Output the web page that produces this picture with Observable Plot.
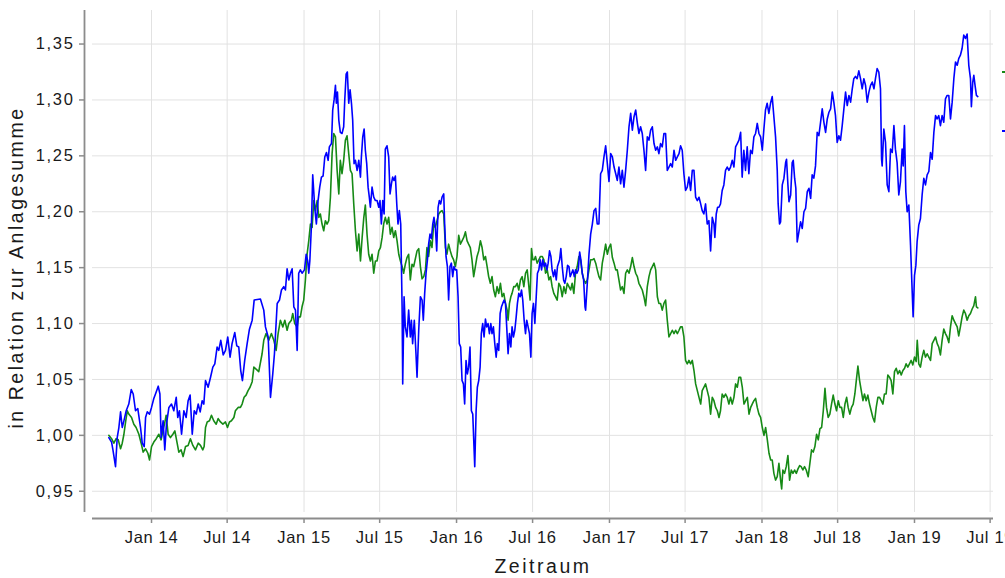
<!DOCTYPE html>
<html><head><meta charset="utf-8">
<script src="https://cdn.jsdelivr.net/npm/d3@7"></script>
<script src="https://cdn.jsdelivr.net/npm/@observablehq/plot@0.6"></script>
<style>
html,body{margin:0;padding:0;background:#fff;overflow:hidden;}
#wrap{position:relative;width:1005px;height:578px;}
#wrap svg g[aria-label="y-axis tick label"] text{letter-spacing:0.1em;}
#wrap svg g[aria-label="x-axis tick label"] text{letter-spacing:0.04em;}
#wrap svg g[aria-label="text"] text{letter-spacing:0.13em;}
.key{position:absolute;left:1002px;width:10px;height:2px;}
</style></head><body><div id="wrap"></div>
<script>
// Values: [decimal year, value relative to invested sum]
const blau = [[2013.720,0.998],[2013.738,0.994],[2013.747,0.987],[2013.764,0.972],[2013.775,0.998],[2013.786,1.007],[2013.797,1.021],[2013.808,1.007],[2013.819,1.013],[2013.834,1.022],[2013.851,1.028],[2013.867,1.041],[2013.880,1.037],[2013.895,1.022],[2013.910,1.024],[2013.928,1.007],[2013.939,0.993],[2013.952,0.990],[2013.961,1.016],[2013.972,1.021],[2013.987,1.019],[2014.000,1.025],[2014.015,1.033],[2014.026,1.037],[2014.044,1.044],[2014.055,1.037],[2014.063,0.998],[2014.076,1.013],[2014.087,0.987],[2014.098,1.010],[2014.114,1.025],[2014.131,1.028],[2014.146,1.022],[2014.162,1.034],[2014.172,1.016],[2014.183,1.022],[2014.197,1.001],[2014.212,1.022],[2014.227,1.016],[2014.240,1.031],[2014.253,1.036],[2014.267,1.001],[2014.280,1.022],[2014.293,1.019],[2014.306,1.028],[2014.319,1.021],[2014.332,1.031],[2014.343,1.028],[2014.354,1.049],[2014.371,1.043],[2014.387,1.052],[2014.402,1.061],[2014.415,1.064],[2014.430,1.079],[2014.441,1.076],[2014.454,1.085],[2014.470,1.072],[2014.485,1.076],[2014.500,1.088],[2014.515,1.070],[2014.528,1.082],[2014.546,1.092],[2014.559,1.080],[2014.572,1.079],[2014.585,1.058],[2014.596,1.049],[2014.611,1.067],[2014.627,1.082],[2014.642,1.095],[2014.660,1.103],[2014.673,1.121],
[2014.714,1.122],[2014.736,1.112],[2014.747,1.097],[2014.765,1.088],[2014.780,1.034],[2014.795,1.055],[2014.806,1.073],[2014.824,1.118],[2014.839,1.121],[2014.852,1.130],[2014.867,1.133],[2014.878,1.130],[2014.889,1.149],[2014.900,1.139],[2014.911,1.145],[2014.922,1.149],[2014.933,1.115],[2014.944,1.112],[2014.955,1.076],[2014.965,1.145],[2014.976,1.148],[2014.987,1.145],[2015.003,1.148],[2015.014,1.162],[2015.024,1.156],[2015.031,1.145],[2015.038,1.156],[2015.048,1.186],[2015.057,1.233],[2015.070,1.204],[2015.081,1.189],[2015.092,1.210],[2015.103,1.222],[2015.114,1.231],[2015.125,1.232],[2015.136,1.249],[2015.147,1.253],[2015.158,1.246],[2015.166,1.258],[2015.180,1.261],[2015.188,1.291],[2015.197,1.300],[2015.206,1.313],[2015.212,1.297],[2015.219,1.307],[2015.228,1.282],[2015.238,1.271],[2015.249,1.270],[2015.260,1.276],[2015.267,1.300],[2015.276,1.323],[2015.284,1.325],[2015.293,1.297],[2015.302,1.309],[2015.311,1.297],[2015.319,1.282],[2015.328,1.243],[2015.337,1.246],[2015.348,1.237],[2015.359,1.246],[2015.370,1.231],[2015.376,1.249],[2015.385,1.267],[2015.394,1.274],[2015.402,1.255],[2015.411,1.243],[2015.420,1.222],[2015.428,1.213],[2015.435,1.204],[2015.446,1.222],[2015.457,1.213],[2015.468,1.210],[2015.479,1.210],[2015.490,1.204],[2015.498,1.210],[2015.507,1.189],[2015.516,1.210],[2015.525,1.198],[2015.533,1.256],[2015.544,1.259],[2015.555,1.249],[2015.564,1.216],[2015.573,1.225],[2015.581,1.231],[2015.590,1.228],[2015.599,1.232],[2015.608,1.207],[2015.616,1.189],[2015.625,1.201],[2015.634,1.189],[2015.643,1.115],[2015.647,1.046],[2015.656,1.124],[2015.664,1.097],[2015.675,1.088],[2015.686,1.112],[2015.697,1.088],[2015.704,1.103],[2015.712,1.082],[2015.723,1.103],[2015.734,1.073],
[2015.741,1.052],[2015.752,1.094],[2015.763,1.124],[2015.774,1.121],[2015.782,1.103],[2015.791,1.127],[2015.800,1.145],[2015.809,1.157],[2015.817,1.171],[2015.826,1.180],[2015.835,1.176],[2015.844,1.189],[2015.852,1.195],[2015.861,1.186],[2015.870,1.165],[2015.879,1.204],[2015.887,1.210],[2015.896,1.207],[2015.905,1.213],[2015.916,1.216],[2015.922,1.189],[2015.931,1.160],[2015.940,1.151],[2015.948,1.121],[2015.957,1.151],[2015.966,1.154],[2015.975,1.142],[2015.983,1.151],[2015.992,1.148],[2016.001,1.148],[2016.010,1.124],[2016.018,1.082],[2016.027,1.079],[2016.036,1.049],[2016.045,1.046],[2016.053,1.028],[2016.062,1.067],[2016.071,1.055],[2016.079,1.061],[2016.088,1.079],[2016.097,1.022],[2016.106,1.019],[2016.114,0.990],[2016.119,0.972],[2016.128,1.022],[2016.136,1.043],[2016.145,1.049],[2016.154,1.061],[2016.162,1.091],[2016.171,1.100],[2016.180,1.088],[2016.189,1.104],[2016.197,1.097],[2016.206,1.100],[2016.215,1.091],[2016.224,1.100],[2016.232,1.091],[2016.241,1.097],[2016.250,1.082],[2016.259,1.070],[2016.267,1.082],[2016.276,1.076],[2016.285,1.109],[2016.294,1.115],[2016.302,1.118],[2016.311,1.121],[2016.320,1.118],[2016.328,1.097],[2016.337,1.073],[2016.346,1.091],[2016.355,1.079],[2016.363,1.097],[2016.372,1.088],[2016.381,1.094],[2016.390,1.106],[2016.398,1.118],[2016.407,1.127],[2016.416,1.124],[2016.425,1.130],[2016.433,1.121],[2016.442,1.103],[2016.451,1.091],[2016.459,1.103],[2016.468,1.097],[2016.477,1.091],[2016.486,1.070],[2016.494,1.109],[2016.503,1.118],[2016.512,1.100],[2016.521,1.124],[2016.529,1.145],[2016.538,1.148],[2016.547,1.157],[2016.556,1.148],[2016.564,1.157],[2016.573,1.151],[2016.582,1.154],[2016.591,1.148],[2016.599,1.154],[2016.608,1.165],[2016.617,1.160],[2016.625,1.148],[2016.634,1.142],[2016.643,1.148],[2016.652,1.139],[2016.660,1.151],[2016.674,1.157],[2016.682,1.167],[2016.691,1.151],[2016.700,1.139],[2016.708,1.136],[2016.717,1.142],[2016.726,1.152],[2016.735,1.151],[2016.743,1.142],[2016.752,1.145],[2016.761,1.148],[2016.770,1.142],[2016.778,1.148],[2016.787,1.145],[2016.796,1.148],[2016.805,1.164],[2016.813,1.157],[2016.822,1.145],[2016.831,1.139],[2016.840,1.115],
[2016.844,1.112],[2016.855,1.136],[2016.866,1.162],[2016.877,1.180],[2016.888,1.189],[2016.899,1.201],[2016.910,1.203],[2016.920,1.189],[2016.931,1.189],[2016.942,1.234],[2016.953,1.237],[2016.964,1.249],[2016.975,1.259],[2016.986,1.243],[2016.997,1.227],[2017.008,1.252],[2017.019,1.249],[2017.030,1.240],[2017.041,1.234],[2017.051,1.228],[2017.062,1.240],[2017.073,1.225],[2017.084,1.237],[2017.095,1.222],[2017.106,1.237],[2017.117,1.255],[2017.128,1.276],[2017.139,1.288],[2017.150,1.273],[2017.161,1.285],[2017.172,1.291],[2017.183,1.279],[2017.193,1.270],[2017.204,1.276],[2017.215,1.270],[2017.226,1.255],[2017.237,1.237],[2017.248,1.267],[2017.259,1.264],[2017.270,1.273],[2017.281,1.276],[2017.292,1.261],[2017.303,1.255],[2017.314,1.258],[2017.324,1.252],[2017.335,1.261],[2017.346,1.258],[2017.357,1.270],[2017.368,1.270],[2017.379,1.237],[2017.390,1.240],[2017.401,1.243],[2017.412,1.240],[2017.423,1.255],[2017.434,1.246],[2017.445,1.249],[2017.456,1.252],[2017.466,1.259],[2017.477,1.255],[2017.488,1.234],[2017.499,1.219],[2017.510,1.222],[2017.521,1.231],[2017.532,1.219],[2017.543,1.237],[2017.554,1.237],[2017.565,1.213],[2017.576,1.210],[2017.587,1.213],[2017.598,1.207],[2017.608,1.201],[2017.619,1.198],[2017.630,1.207],[2017.641,1.189],[2017.652,1.192],[2017.663,1.165],[2017.674,1.195],[2017.685,1.189],[2017.691,1.177],[2017.700,1.198],[2017.709,1.204],[2017.718,1.204],[2017.728,1.207],[2017.739,1.219],[2017.750,1.224],[2017.761,1.237],[2017.772,1.240],[2017.783,1.237],[2017.794,1.240],[2017.805,1.246],[2017.816,1.240],[2017.827,1.258],[2017.838,1.261],[2017.849,1.264],[2017.860,1.271],[2017.870,1.231],[2017.881,1.255],[2017.892,1.237],[2017.903,1.258],[2017.914,1.234],[2017.925,1.255],[2017.936,1.252],[2017.947,1.267],[2017.958,1.270],[2017.969,1.279],[2017.980,1.270],[2017.991,1.267],[2018.002,1.255],[2018.012,1.273],[2018.023,1.291],[2018.034,1.297],[2018.045,1.288],[2018.056,1.297],[2018.067,1.303],[2018.078,1.285],[2018.089,1.267],[2018.100,1.237],[2018.106,1.207],[2018.115,1.189],
[2018.122,1.191],[2018.133,1.224],[2018.144,1.230],[2018.155,1.244],[2018.161,1.247],[2018.170,1.224],[2018.177,1.209],[2018.188,1.215],[2018.198,1.244],[2018.205,1.246],[2018.214,1.230],[2018.222,1.221],[2018.231,1.173],[2018.242,1.182],[2018.253,1.191],[2018.264,1.185],[2018.275,1.200],[2018.286,1.203],[2018.297,1.218],[2018.308,1.221],[2018.319,1.212],[2018.329,1.233],[2018.340,1.230],[2018.351,1.241],[2018.362,1.271],[2018.373,1.268],[2018.384,1.280],[2018.395,1.292],[2018.406,1.280],[2018.417,1.271],[2018.428,1.283],[2018.439,1.289],[2018.450,1.292],[2018.461,1.307],[2018.471,1.298],[2018.482,1.286],[2018.493,1.262],[2018.504,1.268],[2018.515,1.264],[2018.526,1.277],[2018.537,1.292],[2018.548,1.307],[2018.559,1.295],[2018.570,1.304],[2018.581,1.298],[2018.592,1.310],[2018.602,1.319],[2018.613,1.321],[2018.624,1.319],[2018.635,1.326],[2018.646,1.319],[2018.657,1.310],[2018.668,1.319],[2018.679,1.313],[2018.690,1.298],[2018.701,1.307],[2018.712,1.313],[2018.723,1.316],[2018.734,1.310],[2018.744,1.319],[2018.755,1.328],[2018.766,1.325],[2018.777,1.310],[2018.784,1.247],[2018.788,1.241],[2018.799,1.274],[2018.810,1.262],[2018.821,1.224],[2018.832,1.218],[2018.843,1.256],[2018.854,1.253],[2018.865,1.277],[2018.875,1.256],[2018.886,1.244],[2018.897,1.215],[2018.908,1.227],[2018.919,1.256],[2018.926,1.241],[2018.934,1.277],[2018.943,1.218],[2018.952,1.200],[2018.963,1.206],[2018.974,1.170],[2018.985,1.128],[2018.991,1.106],[2019.000,1.143],[2019.009,1.152],[2019.017,1.173],[2019.028,1.188],[2019.039,1.194],[2019.050,1.215],[2019.061,1.230],[2019.072,1.224],[2019.083,1.233],[2019.094,1.236],[2019.105,1.253],[2019.116,1.247],[2019.127,1.271],[2019.138,1.286],[2019.148,1.283],[2019.159,1.286],[2019.170,1.277],[2019.181,1.286],[2019.192,1.280],[2019.203,1.301],[2019.214,1.304],[2019.225,1.304],[2019.236,1.283],[2019.247,1.298],[2019.258,1.319],[2019.269,1.334],[2019.280,1.331],[2019.290,1.337],[2019.301,1.340],[2019.312,1.346],[2019.323,1.358],[2019.334,1.355],[2019.345,1.359],[2019.356,1.331],[2019.367,1.319],[2019.373,1.294],[2019.382,1.316],[2019.389,1.322],[2019.397,1.313],[2019.406,1.304],[2019.415,1.303]];

const gruen = [[2013.720,1.000],[2013.738,0.997],[2013.753,0.993],[2013.768,0.997],[2013.782,0.996],[2013.797,0.988],[2013.808,0.993],[2013.819,1.001],[2013.830,1.012],[2013.841,1.022],[2013.851,1.019],[2013.869,1.016],[2013.884,1.010],[2013.899,1.007],[2013.917,1.001],[2013.932,0.993],[2013.945,0.985],[2013.961,0.988],[2013.976,0.984],[2013.987,0.978],[2014.000,0.990],[2014.015,0.994],[2014.031,0.997],[2014.048,1.001],[2014.063,0.996],[2014.074,1.004],[2014.085,1.010],[2014.096,1.018],[2014.109,1.001],[2014.124,0.998],[2014.140,1.001],[2014.153,1.004],[2014.168,0.993],[2014.179,0.985],[2014.194,0.987],[2014.207,0.981],[2014.223,0.990],[2014.240,0.991],[2014.255,0.997],[2014.271,0.991],[2014.288,0.987],[2014.306,0.993],[2014.321,0.991],[2014.336,0.987],[2014.345,0.990],[2014.354,1.007],[2014.365,1.012],[2014.380,1.013],[2014.393,1.018],[2014.408,1.013],[2014.424,1.010],[2014.437,1.015],[2014.452,1.012],[2014.468,1.010],[2014.485,1.012],[2014.498,1.007],[2014.511,1.012],[2014.524,1.013],[2014.540,1.016],[2014.550,1.022],[2014.568,1.025],[2014.583,1.025],[2014.594,1.028],[2014.607,1.034],[2014.620,1.036],[2014.633,1.040],[2014.646,1.043],[2014.660,1.048],[2014.671,1.061],
[2014.703,1.057],[2014.725,1.073],[2014.736,1.085],[2014.751,1.091],[2014.769,1.085],[2014.786,1.091],[2014.802,1.085],[2014.817,1.076],[2014.830,1.091],[2014.845,1.103],[2014.861,1.097],[2014.874,1.103],[2014.889,1.094],[2014.900,1.100],[2014.917,1.103],[2014.926,1.109],[2014.939,1.100],[2014.955,1.097],[2014.965,1.106],[2014.976,1.106],[2014.987,1.115],[2014.998,1.121],[2015.009,1.139],[2015.020,1.162],[2015.031,1.174],[2015.042,1.189],[2015.053,1.186],[2015.064,1.210],[2015.075,1.201],[2015.086,1.210],[2015.097,1.195],[2015.107,1.198],[2015.118,1.189],[2015.129,1.183],[2015.140,1.192],[2015.151,1.189],[2015.162,1.192],[2015.173,1.213],[2015.184,1.252],[2015.195,1.270],[2015.206,1.267],[2015.217,1.237],[2015.228,1.216],[2015.238,1.246],[2015.249,1.234],[2015.260,1.246],[2015.271,1.264],[2015.282,1.268],[2015.293,1.252],[2015.304,1.237],[2015.315,1.234],[2015.326,1.207],[2015.337,1.183],[2015.348,1.165],[2015.359,1.180],[2015.370,1.156],[2015.381,1.177],[2015.392,1.195],[2015.402,1.206],[2015.413,1.180],[2015.424,1.162],[2015.435,1.156],[2015.446,1.162],[2015.457,1.145],[2015.468,1.156],[2015.479,1.156],[2015.490,1.165],[2015.501,1.168],[2015.512,1.177],[2015.522,1.189],[2015.533,1.195],[2015.544,1.189],[2015.555,1.195],[2015.566,1.180],[2015.577,1.186],[2015.588,1.177],[2015.599,1.183],[2015.610,1.174],[2015.621,1.162],[2015.632,1.156],[2015.643,1.151],[2015.653,1.145],[2015.664,1.153],[2015.675,1.159],[2015.686,1.162],[2015.697,1.139],[2015.708,1.153],[2015.719,1.151],
[2015.741,1.165],[2015.752,1.167],[2015.763,1.151],[2015.774,1.140],[2015.785,1.142],[2015.796,1.148],[2015.806,1.168],[2015.817,1.160],[2015.828,1.174],[2015.839,1.168],[2015.850,1.189],[2015.861,1.186],[2015.872,1.192],[2015.883,1.198],[2015.894,1.200],[2015.905,1.201],[2015.916,1.198],[2015.927,1.168],[2015.937,1.162],[2015.948,1.171],[2015.959,1.165],[2015.970,1.160],[2015.981,1.157],[2015.992,1.151],[2016.003,1.160],[2016.014,1.179],[2016.025,1.171],[2016.036,1.174],[2016.047,1.177],[2016.058,1.182],[2016.069,1.174],[2016.079,1.171],[2016.090,1.168],[2016.101,1.157],[2016.112,1.142],[2016.123,1.151],[2016.134,1.160],[2016.145,1.165],[2016.156,1.174],[2016.167,1.168],[2016.178,1.157],[2016.189,1.160],[2016.200,1.151],[2016.210,1.142],[2016.221,1.136],[2016.232,1.142],[2016.243,1.130],[2016.254,1.124],[2016.265,1.133],[2016.276,1.127],[2016.287,1.136],[2016.298,1.124],[2016.309,1.127],[2016.320,1.118],[2016.331,1.112],[2016.337,1.103],[2016.346,1.118],[2016.355,1.124],[2016.363,1.127],[2016.374,1.133],[2016.385,1.133],[2016.396,1.136],[2016.407,1.130],[2016.418,1.139],[2016.429,1.142],[2016.440,1.133],[2016.451,1.145],[2016.462,1.148],[2016.473,1.133],[2016.481,1.121],[2016.490,1.167],[2016.499,1.157],[2016.508,1.157],[2016.516,1.160],[2016.527,1.154],[2016.538,1.157],[2016.549,1.160],[2016.560,1.160],[2016.571,1.157],[2016.582,1.145],[2016.593,1.148],[2016.604,1.139],[2016.615,1.142],[2016.625,1.133],[2016.636,1.127],[2016.647,1.124],[2016.658,1.121],[2016.669,1.136],[2016.680,1.133],[2016.691,1.124],[2016.702,1.133],[2016.713,1.127],[2016.724,1.136],[2016.735,1.133],[2016.746,1.130],[2016.756,1.136],[2016.767,1.127],[2016.778,1.145],[2016.789,1.151],[2016.800,1.160],[2016.811,1.157],[2016.822,1.145],[2016.833,1.139],
[2016.844,1.136],[2016.855,1.139],[2016.866,1.148],[2016.877,1.157],[2016.888,1.157],[2016.899,1.158],[2016.910,1.154],[2016.920,1.148],[2016.931,1.142],[2016.942,1.139],[2016.953,1.154],[2016.964,1.162],[2016.975,1.171],[2016.986,1.162],[2016.997,1.168],[2017.008,1.171],[2017.019,1.159],[2017.030,1.154],[2017.041,1.148],[2017.051,1.148],[2017.062,1.139],[2017.073,1.130],[2017.084,1.133],[2017.095,1.127],[2017.106,1.145],[2017.117,1.148],[2017.128,1.145],[2017.139,1.151],[2017.150,1.159],[2017.161,1.151],[2017.172,1.145],[2017.183,1.142],[2017.193,1.136],[2017.204,1.133],[2017.215,1.130],[2017.226,1.124],[2017.237,1.116],[2017.248,1.133],[2017.259,1.142],[2017.270,1.148],[2017.281,1.151],[2017.292,1.154],[2017.303,1.148],[2017.314,1.124],[2017.324,1.118],[2017.335,1.118],[2017.346,1.112],[2017.357,1.118],[2017.368,1.121],[2017.379,1.103],[2017.390,1.088],[2017.401,1.091],[2017.412,1.094],[2017.423,1.091],[2017.434,1.094],[2017.445,1.091],[2017.456,1.094],[2017.466,1.097],[2017.477,1.097],[2017.488,1.088],[2017.499,1.067],[2017.510,1.064],[2017.521,1.067],[2017.532,1.064],[2017.543,1.067],[2017.554,1.058],[2017.565,1.046],[2017.576,1.040],[2017.587,1.034],[2017.598,1.028],[2017.608,1.040],[2017.619,1.043],[2017.630,1.046],[2017.641,1.040],[2017.652,1.034],[2017.663,1.019],[2017.674,1.034],[2017.685,1.031],[2017.696,1.025],[2017.707,1.022],[2017.718,1.016],[2017.728,1.022],[2017.739,1.037],[2017.750,1.034],[2017.761,1.037],[2017.772,1.034],[2017.783,1.028],[2017.794,1.034],[2017.805,1.028],[2017.816,1.034],[2017.827,1.046],[2017.838,1.043],[2017.849,1.052],
[2017.860,1.052],[2017.871,1.043],[2017.882,1.028],[2017.893,1.031],[2017.904,1.034],[2017.915,1.019],[2017.926,1.025],[2017.936,1.028],[2017.947,1.031],[2017.958,1.033],[2017.969,1.025],[2017.980,1.019],[2017.991,1.016],[2018.002,1.007],[2018.013,1.000],[2018.024,1.007],[2018.035,0.996],[2018.046,0.984],[2018.057,0.978],[2018.067,0.978],[2018.078,0.966],[2018.089,0.960],[2018.100,0.963],[2018.111,0.975],[2018.122,0.960],[2018.129,0.952],[2018.137,0.969],[2018.148,0.966],[2018.159,0.972],[2018.170,0.982],[2018.181,0.960],[2018.192,0.969],[2018.203,0.966],[2018.214,0.969],[2018.225,0.966],[2018.236,0.970],[2018.247,0.973],[2018.257,0.972],[2018.268,0.969],[2018.279,0.972],[2018.290,0.969],[2018.303,0.963],[2018.314,0.975],[2018.325,0.987],[2018.336,0.985],[2018.347,0.990],[2018.358,1.001],[2018.369,0.996],[2018.380,1.006],[2018.391,1.007],[2018.402,1.022],[2018.413,1.042],[2018.423,1.025],[2018.434,1.016],[2018.445,1.019],[2018.456,1.028],[2018.467,1.036],[2018.478,1.028],[2018.489,1.022],[2018.500,1.031],[2018.511,1.025],[2018.522,1.025],[2018.533,1.016],[2018.544,1.028],[2018.555,1.034],[2018.565,1.025],[2018.576,1.019],[2018.587,1.025],[2018.598,1.028],[2018.609,1.037],[2018.620,1.051],[2018.629,1.062],[2018.640,1.049],[2018.651,1.040],[2018.662,1.031],[2018.672,1.037],[2018.683,1.031],[2018.694,1.036],[2018.705,1.028],[2018.716,1.022],[2018.727,1.016],[2018.738,1.012],[2018.749,1.025],[2018.760,1.034],[2018.771,1.034],[2018.782,1.031],[2018.793,1.028],[2018.803,1.037],[2018.814,1.037],[2018.825,1.054],[2018.836,1.052],[2018.847,1.049],[2018.858,1.037],[2018.869,1.057],[2018.880,1.060],[2018.891,1.055],[2018.902,1.058],[2018.913,1.054],[2018.924,1.058],[2018.935,1.060],[2018.945,1.064],[2018.956,1.061],[2018.967,1.064],[2018.978,1.067],[2018.989,1.063],[2019.000,1.070],[2019.011,1.066],[2019.018,1.085],[2019.028,1.064],[2019.039,1.061],[2019.050,1.070],[2019.061,1.076],[2019.072,1.070],[2019.083,1.073],[2019.094,1.070],[2019.105,1.067],[2019.116,1.082],[2019.127,1.085],[2019.138,1.088],[2019.149,1.082],[2019.159,1.079],[2019.170,1.072],[2019.181,1.085],[2019.192,1.095],[2019.203,1.091],[2019.214,1.088],[2019.225,1.083],[2019.236,1.097],[2019.247,1.107],[2019.258,1.103],[2019.269,1.100],[2019.280,1.097],[2019.290,1.089],[2019.301,1.097],[2019.312,1.106],[2019.323,1.112],[2019.334,1.109],[2019.345,1.103],[2019.356,1.107],[2019.367,1.109],[2019.378,1.113],[2019.389,1.116],[2019.400,1.124],[2019.406,1.115],[2019.415,1.114]];

const yTicks = [0.95, 1.00, 1.05, 1.10, 1.15, 1.20, 1.25, 1.30, 1.35];
const xTickDates = ["2014-01-01","2014-07-01","2015-01-01","2015-07-01","2016-01-01","2016-07-01","2017-01-01","2017-07-01","2018-01-01","2018-07-01","2019-01-01","2019-07-01"];
const xDomainYears = [2013.613, 2019.518];
const yDomain = [0.931, 1.380];
const xTitle = "Zeitraum";
const yTitle = "in Relation zur Anlagesumme";
const colors = {gruen: "#168a16", blau: "#0000ff"};

function toDate(yr) {
  const y = Math.floor(yr);
  const s = Date.UTC(y, 0, 1), e = Date.UTC(y + 1, 0, 1);
  return new Date(s + (yr - y) * (e - s));
}
const xTicks = xTickDates.map(d => new Date(d + "T00:00:00Z"));
const xDomain = xDomainYears.map(toDate);
const fmtX = d3.utcFormat("%b %y");
const fmtY = v => d3.format(".2f")(v).replace(".", ",");
const FONT = "'Liberation Sans', Arial, Helvetica, sans-serif";
const axisGray = "#8c8c8c";
const textColor = "#1a1a1a";

const chart = Plot.plot({
  width: 1005,
  height: 578,
  marginLeft: 92,
  marginRight: 12,
  marginTop: 10,
  marginBottom: 66,
  style: {fontFamily: FONT, fontSize: "16.5px", color: textColor, background: "#fff"},
  x: {type: "utc", domain: xDomain},
  y: {domain: yDomain},
  marks: [
    Plot.gridX(xTicks, {stroke: "#e2e2e2", strokeOpacity: 1, strokeWidth: 1}),
    Plot.gridY(yTicks, {stroke: "#e2e2e2", strokeOpacity: 1, strokeWidth: 1}),
    Plot.ruleX([xDomain[0]], {dx: -8, stroke: axisGray, strokeWidth: 1.8}),
    Plot.ruleY([yDomain[0]], {dy: 6, stroke: axisGray, strokeWidth: 1.8}),
    Plot.axisY(yTicks, {anchor: "left", dx: -8, tickSize: 5, tickPadding: 5, tickFormat: fmtY, stroke: axisGray, strokeWidth: 1.5, fill: textColor, label: null, fontSize: 16.5}),
    Plot.axisX(xTicks, {anchor: "bottom", dy: 6, tickSize: 5, tickPadding: 8, tickFormat: fmtX, stroke: axisGray, strokeWidth: 1.5, fill: textColor, label: null, fontSize: 16.5}),
    Plot.line(gruen, {x: d => toDate(d[0]), y: d => d[1], stroke: colors.gruen, strokeWidth: 1.6}),
    Plot.line(blau, {x: d => toDate(d[0]), y: d => d[1], stroke: colors.blau, strokeWidth: 1.6}),
    Plot.text([xTitle], {frameAnchor: "bottom", textAnchor: "middle", lineAnchor: "middle", dy: 54, fontSize: 19.5, fill: textColor}),
    Plot.text([yTitle], {frameAnchor: "left", textAnchor: "middle", lineAnchor: "middle", rotate: -90, dx: -76, dy: 6, fontSize: 19.5, fill: textColor})
  ]
});
const wrap = document.getElementById("wrap");
wrap.appendChild(chart);
// legend keys (cut off at the right edge, as in the reference)
[["gruen", 71], ["blau", 130]].forEach(([k, top]) => {
  const el = document.createElement("div");
  el.className = "key";
  el.style.top = top + "px";
  el.style.background = colors[k];
  wrap.appendChild(el);
});
</script>
</body></html>
